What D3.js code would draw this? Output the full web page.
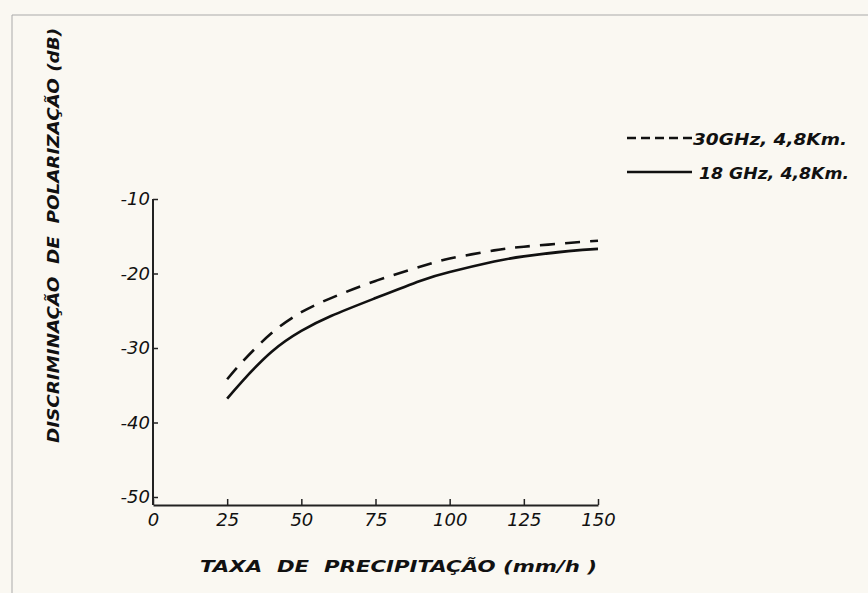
<!DOCTYPE html>
<html>
<head>
<meta charset="utf-8">
<script src="https://cdn.jsdelivr.net/npm/d3@7"></script>
<style>
  body { margin: 0; background: #faf8f2; }
  svg { display: block; }
  text { font-family: "DejaVu Sans", sans-serif; font-style: italic; fill: #111; }
</style>
</head>
<body>
<svg id="chart" width="868" height="593"></svg>
<script>
// data
const rainRate = [25, 30, 40, 50, 60, 75, 90, 100, 115, 125, 140, 150];
const xpd30 = [-34.2, -31.9, -28.0, -25.2, -23.3, -21.0, -19.1, -18.0, -16.9, -16.4, -15.9, -15.6];
const xpd18 = [-36.8, -34.5, -30.5, -27.7, -25.7, -23.3, -21.0, -19.8, -18.4, -17.7, -17.0, -16.7];
const xTicks = [0, 25, 50, 75, 100, 125, 150];
const yTicks = [-10, -20, -30, -40, -50];
const seriesLabels = ["30GHz, 4,8Km.", "18 GHz, 4,8Km."];
const xTitle = "TAXA  DE  PRECIPITAÇÃO (mm/h )";
const yTitle = "DISCRIMINAÇÃO  DE  POLARIZAÇÃO (dB)";

const svg = d3.select("#chart");

// faint frame of the scanned page
svg.append("path")
  .attr("d", "M12,593 V15 H868")
  .attr("fill", "none")
  .attr("stroke", "#aaa")
  .attr("stroke-width", 1);

const x = d3.scaleLinear().domain([0, 150]).range([153, 598]);
const y = d3.scaleLinear().domain([-50, -10]).range([497, 199]);

// X axis
const xAxis = svg.append("g")
  .attr("transform", "translate(0,505)")
  .call(d3.axisBottom(x).tickValues(xTicks).tickSize(-6).tickPadding(8).tickSizeOuter(0));
xAxis.select(".domain").attr("stroke", "#222").attr("stroke-width", 2);
xAxis.selectAll(".tick line").attr("stroke", "#222").attr("stroke-width", 1.5);
xAxis.selectAll("text").attr("font-size", "18px").style("font-style", "italic")
  .attr("font-family", "DejaVu Sans").attr("fill", "#111");

// Y axis
const yAxis = svg.append("g")
  .attr("transform", "translate(153,0)")
  .call(d3.axisLeft(y).tickValues(yTicks).tickSize(-5).tickPadding(3).tickSizeOuter(0)
    .tickFormat(d => "-" + Math.abs(d)));
yAxis.select(".domain").attr("d", `M0,${y(-10)}V505`).attr("stroke", "#222").attr("stroke-width", 2);
yAxis.selectAll(".tick line").attr("stroke", "#222").attr("stroke-width", 1.5);
yAxis.selectAll("text").attr("font-size", "18px").style("font-style", "italic")
  .attr("font-family", "DejaVu Sans").attr("fill", "#111");

// Axis titles
svg.append("text")
  .attr("x", 200).attr("y", 572)
  .attr("font-size", "16px").attr("font-weight", "bold")
  .attr("textLength", 397).attr("lengthAdjust", "spacingAndGlyphs")
  .style("white-space", "pre")
  .text(xTitle);

svg.append("text")
  .attr("transform", "translate(59,443) rotate(-90)")
  .attr("font-size", "16px").attr("font-weight", "bold")
  .attr("textLength", 415).attr("lengthAdjust", "spacingAndGlyphs")
  .style("white-space", "pre")
  .text(yTitle);

// Curves
const line = d3.line()
  .x(d => x(d[0]))
  .y(d => y(d[1]))
  .curve(d3.curveNatural);

svg.append("path")
  .datum(rainRate.map((r, i) => [r, xpd30[i]]))
  .attr("d", line)
  .attr("fill", "none")
  .attr("stroke", "#111")
  .attr("stroke-width", 2.6)
  .attr("stroke-dasharray", "15,10");

svg.append("path")
  .datum(rainRate.map((r, i) => [r, xpd18[i]]))
  .attr("d", line)
  .attr("fill", "none")
  .attr("stroke", "#111")
  .attr("stroke-width", 2.6);

// Legend
const legend = svg.append("g").attr("transform", "translate(627,138)");
seriesLabels.forEach((lab, i) => {
  const g = legend.append("g").attr("transform", `translate(0,${i * 34})`);
  g.append("line")
    .attr("x1", 0).attr("x2", 65).attr("y1", 0).attr("y2", 0)
    .attr("stroke", "#111").attr("stroke-width", 2.6)
    .attr("stroke-dasharray", i === 0 ? "9,5" : null);
  g.append("text")
    .attr("x", i === 0 ? 66 : 72).attr("y", 7)
    .attr("font-size", "16px").attr("font-weight", "bold")
    .attr("textLength", i === 0 ? 154 : 150).attr("lengthAdjust", "spacingAndGlyphs")
    .text(lab);
});
</script>
</body>
</html>
